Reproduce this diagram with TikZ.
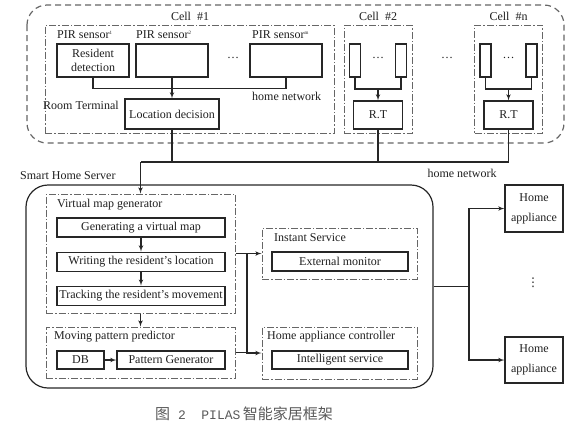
\documentclass[tikz,border=0pt]{standalone}
\usepackage{fontspec}
\setmainfont{Liberation Serif}
\newfontfamily\cjk{Noto Sans CJK SC}
\newfontfamily\capmono{Liberation Mono}
\newfontfamily\symfont{DejaVu Sans}
\usepackage{xcolor}
\colorlet{LINECOLOR}{black!85}
\colorlet{FRAMECOLOR}{black!60}
\colorlet{TEXTCOLOR}{black!88}
\colorlet{CAPTIONCOLOR}{black!65}
\usepackage{tikz}
\usetikzlibrary{arrows,positioning}
\tikzset{
  box-style/.style = {
    rectangle, draw=LINECOLOR, line width=1.1pt,
    inner sep=0pt, align=center,
    minimum width=#1
  },
  box-style/.default = 168pt,
  bar-style/.style = {
    box-style=11pt,
    minimum height=33pt
  },
  frame-style/.style = {
    rectangle, draw=FRAMECOLOR, line width=1pt,
    dash pattern=on 7pt off 2pt on 1.5pt off 2pt,
    inner sep=0pt
  },
  outer-style/.style = {
    draw=FRAMECOLOR, line width=1.2pt,
    dash pattern=on 6pt off 4pt,
    rounded corners=20pt
  },
  server-style/.style = {
    rectangle, draw=LINECOLOR, line width=1.2pt,
    rounded corners=22pt, inner sep=0pt
  },
  title-style/.style = {
    anchor=west, inner sep=0pt
  },
  link/.style = {
    draw=LINECOLOR, line width=1.1pt
  }
}
\def\createCell name:#1 display:#2 at:#3;{
  \begin{scope}[shift={(#3,0)}]
    \node [frame-style, minimum width=68pt, minimum height=108pt] (#1) at (0,79) {};
    \node (#1-title) at (0,16) {#2};
    \node [bar-style] (#1-lbar) at (-23,60.5) {};
    \node [bar-style] (#1-rbar) at (23,60.5) {};
    \node (#1-dots) at (0,58) {\dots};
    \node [box-style=49pt, minimum height=28pt] (#1-rt) at (0,115) {R.T};
    \coordinate (#1-join) at (0,89);
    \draw [link] (#1-lbar.south) |- (#1-join) -| (#1-rbar.south);
    \draw [link,->] (#1-join) -- (#1-rt.north);
  \end{scope}
}

\begin{document}
\begin{tikzpicture}[x=1pt,y=-1pt,>=latex',
    font=\fontsize{12}{14}\selectfont,text=TEXTCOLOR]
  \useasboundingbox (0,0) rectangle (580,429);

  % sensor cells
  \draw [outer-style] (27,5) rectangle (564,143);
  \node [frame-style, minimum width=289pt, minimum height=108pt] (cella) at (189.5,79) {};
  \node (cella-title) at (190,16) {Cell~~\#1};
  \node [title-style] (pira-title) at (57,35) {PIR sensor\textsuperscript{\tiny 1}};
  \node [title-style] (pirb-title) at (136,35) {PIR sensor\textsuperscript{\tiny 2}};
  \node [title-style] (pirm-title) at (252,35) {PIR sensor\textsuperscript{\tiny m}};
  \node [box-style=72pt, minimum height=33pt] (res) at (93,60.5) {Resident\\detection};
  \node [box-style=72pt, minimum height=33pt] (pirb) at (172,60.5) {};
  \node (cella-dots) at (233,58) {\dots};
  \node [box-style=72pt, minimum height=33pt] (pirm) at (286,60.5) {};
  \node [title-style] (cella-net) at (252,96) {home network};
  \node [title-style] (cella-rt) at (43,105) {Room Terminal};
  \node [box-style=94pt, minimum height=30pt] (loc) at (172,114) {Location decision};
  \draw [link] (res.south) -- ++(0,11) -| (pirm.south);
  \draw [link,->] (pirb.south) -- (loc.north);

  \createCell name:cellb display:{Cell~~\#2} at:378;
  \node (cells-dots) at (447,58) {\dots};
  \createCell name:celln display:{Cell~~\#n} at:508.5;

  % home network
  \coordinate (net) at (140.5,162);
  \draw [link] (celln-rt.south) |- (net);
  \draw [link] (cellb-rt.south) -- (cellb-rt.south |- net);
  \draw [link] (loc.south) -- (loc.south |- net);
  \node (net-label) at (462,173) {home network};

  % smart home server
  \node [title-style] (srv-title) at (20,176) {Smart Home Server};
  \node [server-style, minimum width=407pt, minimum height=203pt] (srv) at (229.5,286.5) {};

  \node [frame-style, minimum width=189pt, minimum height=119pt] (vmg) at (140.5,253.5) {};
  \node [title-style] (vmg-title) at (57,205) {Virtual map generator};
  \node [box-style, minimum height=19pt] (gen) at (141,227.5) {Generating a virtual map};
  \node [box-style, minimum height=19pt, below=14pt of gen] (wri) {Writing the resident's location};
  \node [box-style, minimum height=19pt, below=14pt of wri] (trk) {Tracking the resident's movement};
  \draw [link,->] (gen) -- (wri);
  \draw [link,->] (wri) -- (trk);
  \draw [link,->] (net) -- (vmg.north);

  \node [frame-style, minimum width=189pt, minimum height=51pt] (mpp) at (140.5,352.5) {};
  \node [title-style] (mpp-title) at (54,337) {Moving pattern predictor};
  \node [box-style=47pt, minimum height=18pt] (db) at (80.5,360) {DB};
  \node [box-style=108pt, minimum height=18pt] (pg) at (171,360) {Pattern Generator};
  \draw [link,->] (db) -- (pg);
  \draw [link,->] (vmg.south) -- (mpp.north);

  \node [frame-style, minimum width=155pt, minimum height=51pt] (ins) at (339.5,253.5) {};
  \node [title-style] (ins-title) at (274,238) {Instant Service};
  \node [box-style=136pt, minimum height=19pt] (ext) at (340,261.5) {External monitor};
  \node [frame-style, minimum width=155pt, minimum height=52pt] (hac) at (339.5,353) {};
  \node [title-style] (hac-title) at (267,337) {Home appliance controller};
  \node [box-style=136pt, minimum height=18pt] (ints) at (340,360) {Intelligent service};

  \coordinate (split) at (247,253.5);
  \draw [link,->] (vmg.east) -- (ins.west);
  \draw [link,->] (split) |- (hac.west);
  \draw [link] (mpp.east) -- (mpp.east -| split);

  % home appliances
  \node [box-style=58pt, minimum height=47pt, font=\fontsize{12}{20}\selectfont] (hap1) at (534,208.5) {Home\\appliance};
  \node [box-style=58pt, minimum height=46pt, font=\fontsize{12}{20}\selectfont] (hap2) at (534,360) {Home\\appliance};
  \node [font=\symfont\fontsize{12}{12}\selectfont] (hap-dots) at (533,283) {⋮};
  \coordinate (fork) at (469,286.5);
  \draw [link] (srv.east) -- (fork);
  \draw [link,->] (fork) |- (hap1.west);
  \draw [link,->] (fork) |- (hap2.west);

  \node [title-style, text=CAPTIONCOLOR] (caption) at (155,414)
    {\cjk\fontsize{15}{15}\selectfont 图{\capmono\fontsize{13}{13}\selectfont~2~~PILAS}\,智能家居框架};
\end{tikzpicture}
\end{document}
